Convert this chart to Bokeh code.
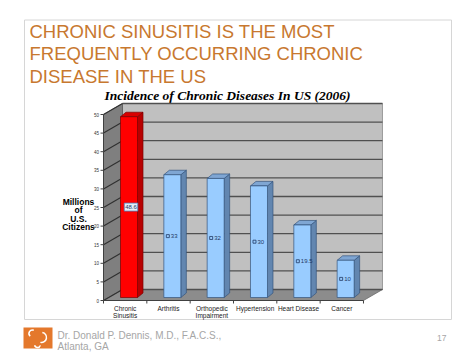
from bokeh.plotting import figure
from bokeh.models import Range1d
from bokeh.core.properties import value
from bokeh.embed import file_html
from bokeh.resources import INLINE

# ---------------- data ----------------
categories = ["Chronic\nSinusitis", "Arthritis", "Orthopedic\nImpairment",
              "Hypertension", "Heart Disease", "Cancer"]
values = [48.6, 33, 32, 30, 19.5, 10]
value_labels = ["48.6", "33", "32", "30", "19.5", "10"]
y_ticks = [0, 5, 10, 15, 20, 25, 30, 35, 40, 45, 50]
y_max = 50

slide_title = ["CHRONIC SINUSITIS IS THE MOST",
               "FREQUENTLY OCCURRING CHRONIC",
               "DISEASE IN THE US"]
chart_title = "Incidence of Chronic Diseases In US (2006)"
y_label_lines = ["Millions", "of", "U.S.", "Citizens"]
footer_lines = ["Dr. Donald P. Dennis, M.D., F.A.C.S.,", "Atlanta, GA"]
page_number = "17"

# ---------------- geometry (pixels of the 474x355 page) ----------------
W, H = 474, 355
X0, Y0 = 103.0, 300.0          # front origin of the 3-D plot
PXC = 43.33                     # pixels per category
PXU = 3.72                      # pixels per unit value
DEPTH_X, DEPTH_Y = 19.0, 11.0   # 3-D depth of the walls (px)

def dx(px):
    return (px - X0) / PXC

def dy(py):
    return (Y0 - py) / PXU

ncat = len(categories)
wall_dx = DEPTH_X / PXC
wall_dy = DEPTH_Y / PXU

p = figure(width=W, height=H, x_range=Range1d(dx(0), dx(W)), y_range=Range1d(dy(H), dy(0)),
           output_backend="svg", toolbar_location=None, min_border=0,
           x_axis_type=None, y_axis_type=None)
p.grid.visible = False
p.outline_line_color = None
p.background_fill_color = "white"
p.border_fill_color = "white"

ARIAL = value("Liberation Sans")
TIMES = value("Liberation Serif")

# slide border
p.patch([dx(24), dx(451), dx(451), dx(24)], [dy(19.5), dy(19.5), dy(319), dy(319)],
        fill_color=None, line_color="#D6D6D6", line_width=1)

# slide title
p.text(x=[dx(29)] * 3, y=[dy(31), dy(53.3), dy(75.6)], text=slide_title,
       text_font=ARIAL, text_font_size="18.5px", text_color="#C8782F",
       text_baseline="alphabetic", text_align="left")

# chart title
p.text(x=[dx(227)], y=[dy(94.5)], text=[chart_title], text_font=TIMES,
       text_font_size="13.5px", text_font_style="bold italic", text_color="black",
       text_baseline="alphabetic", text_align="center")

# ---------------- 3-D walls ----------------
# back wall
p.patch([wall_dx, ncat + wall_dx, ncat + wall_dx, wall_dx],
        [wall_dy, wall_dy, y_max + wall_dy, y_max + wall_dy],
        fill_color="#C0C0C0", line_color="#8A8A8A", line_width=0.8)
# left wall
p.patch([0, wall_dx, wall_dx, 0], [0, wall_dy, y_max + wall_dy, y_max],
        fill_color="#7F7F7F", line_color="#5A5A5A", line_width=0.8)
# floor
p.patch([0, ncat, ncat + wall_dx, wall_dx], [0, 0, wall_dy, wall_dy],
        fill_color="#8C8C8C", line_color="#6A6A6A", line_width=0.8)

# gridlines on back wall and left wall
p.segment(x0=[wall_dx] * len(y_ticks), y0=[t + wall_dy for t in y_ticks],
          x1=[ncat + wall_dx] * len(y_ticks), y1=[t + wall_dy for t in y_ticks],
          line_color="#505050", line_width=1.3)
p.segment(x0=[0] * len(y_ticks), y0=y_ticks,
          x1=[wall_dx] * len(y_ticks), y1=[t + wall_dy for t in y_ticks],
          line_color="#303030", line_width=1.1)

# y axis (front left edge)
p.segment(x0=[0], y0=[0], x1=[0], y1=[y_max], line_color="#404040", line_width=1)
p.segment(x0=[dx(100)] * len(y_ticks), y0=y_ticks, x1=[0] * len(y_ticks), y1=y_ticks,
          line_color="#404040", line_width=1)
p.text(x=[dx(98.5)] * len(y_ticks), y=y_ticks, text=[str(t) for t in y_ticks],
       text_font=ARIAL, text_font_size="4.5px", text_color="#333333",
       text_baseline="middle", text_align="right")

# x axis (front bottom edge)
p.segment(x0=[0], y0=[0], x1=[ncat], y1=[0], line_color="#404040", line_width=1)
bounds = list(range(ncat + 1))
p.segment(x0=bounds, y0=[0] * len(bounds), x1=bounds, y1=[-3 / PXU] * len(bounds),
          line_color="#404040", line_width=1)

# category labels
for i, c in enumerate(categories):
    lines = c.split("\n")
    p.text(x=[i + 0.5] * len(lines), y=[dy(308 + 7 * k) for k in range(len(lines))],
           text=lines, text_font=ARIAL, text_font_size="6.5px", text_color="#222222",
           text_baseline="alphabetic", text_align="center")

# y axis title
p.text(x=[dx(78)] * 4, y=[dy(201.5), dy(209), dy(218), dy(226.5)], text=y_label_lines,
       text_font=ARIAL, text_font_size="8.5px", text_font_style="bold", text_color="black",
       text_baseline="alphabetic", text_align="center")

# ---------------- bars ----------------
BAR_L, BAR_R = 17 / PXC, 34 / PXC     # front face within category
BAR_B = 3 / PXU                        # bar base above front zero
BDX, BDY = 5.5 / PXC, 4.5 / PXU        # bar depth

for i, v in enumerate(values):
    red = (i == 0)
    front = "#FF0000" if red else "#99CCFF"
    side = "#B80000" if red else "#6286B0"
    top = "#D80000" if red else "#7FA6D3"
    edge = "#7A0000" if red else "#35557C"
    xl, xr = i + BAR_L, i + BAR_R
    yb, yt = BAR_B, BAR_B + v
    # side face
    p.patch([xr, xr + BDX, xr + BDX, xr], [yb, yb + BDY, yt + BDY, yt],
            fill_color=side, line_color=edge, line_width=0.7)
    # top face
    p.patch([xl, xr, xr + BDX, xl + BDX], [yt, yt, yt + BDY, yt + BDY],
            fill_color=top, line_color=edge, line_width=0.7)
    # front face
    p.patch([xl, xr, xr, xl], [yb, yb, yt, yt],
            fill_color=front, line_color=edge, line_width=0.7)

# data labels
for i, (v, lab) in enumerate(zip(values, value_labels)):
    cx = i + (BAR_L + BAR_R) / 2
    cy = BAR_B + v / 2
    if i == 0:
        p.rect(x=[cx + 2 / PXC], y=[cy], width=13.5 / PXC, height=8 / PXU,
               fill_color="#E4EEF8", line_color="#4F81BD", line_width=0.8)
        p.text(x=[cx + 2 / PXC], y=[cy], text=[lab], text_font=ARIAL,
               text_font_size="6px", text_color="#1F3864",
               text_baseline="middle", text_align="center")
    else:
        p.rect(x=[cx - 4.5 / PXC], y=[cy], width=3 / PXC, height=3 / PXU,
               fill_color=None, line_color="#1F3864", line_width=0.8)
        p.text(x=[cx - 1.5 / PXC], y=[cy], text=[lab], text_font=ARIAL,
               text_font_size="6px", text_color="#1F3864",
               text_baseline="middle", text_align="left")

# ---------------- footer ----------------
p.patch([dx(23), dx(52), dx(52), dx(23)], [dy(327), dy(327), dy(348), dy(348)],
        fill_color="#E4782C", line_color=None)
# stylised logo strokes
p.arc(x=[dx(32)], y=[dy(333)], radius=3.5 / PXC, start_angle=1.2, end_angle=4.0,
      line_color="white", line_width=1.5)
p.arc(x=[dx(41)], y=[dy(337)], radius=5 / PXC, start_angle=-1.8, end_angle=1.4,
      line_color="white", line_width=1.5)
p.arc(x=[dx(37)], y=[dy(344)], radius=3 / PXC, start_angle=3.4, end_angle=6.0,
      line_color="white", line_width=1.5)

p.text(x=[dx(57)] * 2, y=[dy(334.5), dy(346)], text=footer_lines, text_font=ARIAL,
       text_font_size="10px", text_color="#A6A6A6",
       text_baseline="alphabetic", text_align="left")
p.text(x=[dx(446)], y=[dy(337)], text=[page_number], text_font=ARIAL,
       text_font_size="8.5px", text_color="#A6A6A6",
       text_baseline="alphabetic", text_align="right")

open("out.html", "w").write(file_html(p, INLINE))
